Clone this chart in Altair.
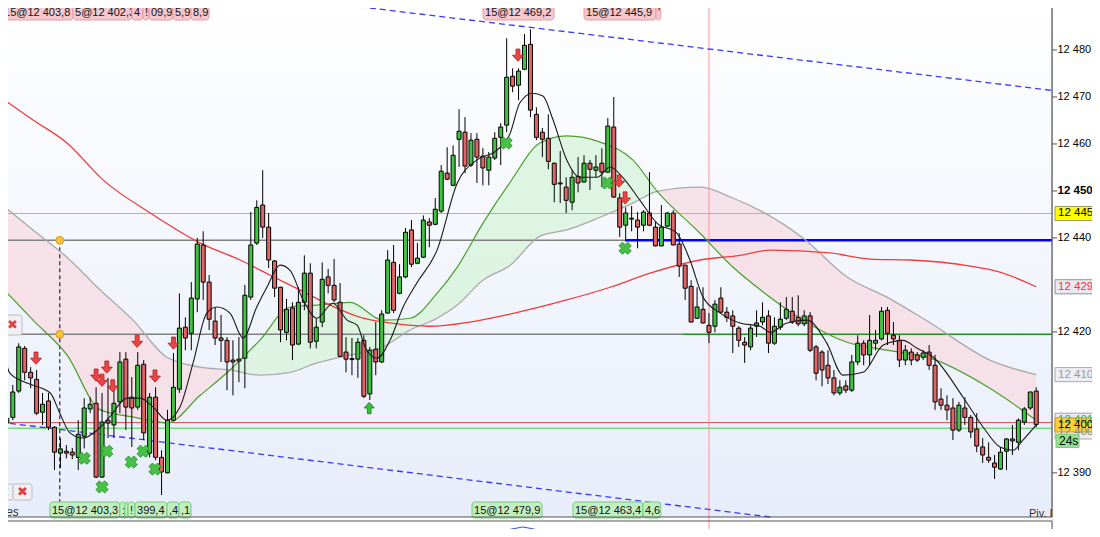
import altair as alt
import pandas as pd

# ---------------- candle data (index = bar number) ----------------
O = [12412.3, 12400.6, 12401.8, 12407.4, 12416.5, 12411.4, 12409.9, 12402.9, 12405.3, 12399.7,
     12394.2, 12394.6, 12394.4, 12393.3, 12397.8, 12403.6, 12404.8, 12389.1, 12401.2, 12400.2,
     12405.1, 12414.2, 12406.1, 12404.0, 12413.1, 12394.2, 12406.1, 12393.3, 12390.0, 12401.2,
     12407.8, 12421.0, 12419.7, 12427.0, 12438.5, 12430.6, 12422.3, 12418.7, 12418.2, 12414.0,
     12413.8, 12414.4, 12427.4, 12438.9, 12447.0, 12442.3, 12435.1, 12429.5, 12419.9, 12425.1,
     12417.4, 12426.3, 12432.5, 12418.0, 12422.1, 12431.7, 12429.9, 12426.3, 12415.7, 12414.3,
     12414.2, 12418.2, 12406.8, 12416.3, 12413.6, 12424.0, 12434.8, 12428.2, 12431.7, 12441.7,
     12434.6, 12435.9, 12443.4, 12442.9, 12445.7, 12453.8, 12451.2, 12461.0, 12462.5, 12455.5,
     12461.0, 12457.4, 12454.4, 12457.0, 12461.4, 12464.0, 12474.4, 12472.5, 12475.9, 12481.2,
     12466.3, 12462.5, 12461.2, 12455.9, 12451.7, 12450.8, 12447.6, 12453.1, 12451.9, 12455.9,
     12454.4, 12455.9, 12454.0, 12463.6, 12448.5, 12442.7, 12444.0, 12443.8, 12442.7, 12445.3,
     12442.3, 12438.3, 12442.5, 12445.3, 12438.7, 12434.2, 12429.7, 12422.9, 12424.8, 12421.4,
     12421.2, 12427.2, 12424.2, 12423.4, 12420.8, 12417.8, 12416.8, 12421.2, 12422.1, 12423.4,
     12417.6, 12421.0, 12422.9, 12424.4, 12423.1, 12421.7, 12423.4, 12416.8, 12415.7, 12412.9,
     12410.2, 12407.0, 12408.5, 12407.6, 12413.6, 12417.6, 12415.1, 12417.6, 12418.5, 12424.6,
     12419.3, 12418.2, 12414.0, 12415.7, 12415.1, 12414.6, 12415.7, 12412.9, 12405.7, 12404.4,
     12403.8, 12399.1, 12403.8, 12401.8, 12399.3, 12395.5, 12393.3, 12392.1, 12390.8, 12394.6,
     12397.2, 12396.5, 12400.8, 12403.8, 12407.4]
H = [12414.0, 12404.0, 12408.7, 12417.6, 12417.0, 12412.5, 12411.9, 12407.0, 12407.0, 12399.9,
     12397.4, 12395.9, 12395.3, 12401.2, 12405.9, 12406.1, 12408.2, 12407.0, 12410.2, 12408.0,
     12415.7, 12415.7, 12410.4, 12415.7, 12414.0, 12407.0, 12408.2, 12394.8, 12403.4, 12415.5,
     12428.2, 12423.1, 12430.6, 12440.0, 12441.4, 12432.1, 12425.3, 12423.6, 12418.9, 12418.2,
     12418.9, 12430.0, 12445.5, 12448.0, 12454.4, 12445.3, 12435.3, 12429.6, 12427.0, 12426.3,
     12429.5, 12436.3, 12434.6, 12422.9, 12434.8, 12433.4, 12435.5, 12430.4, 12418.9, 12418.7,
     12418.7, 12419.3, 12416.8, 12422.1, 12424.6, 12437.4, 12438.5, 12434.4, 12442.1, 12443.8,
     12438.9, 12444.8, 12444.2, 12448.5, 12455.5, 12459.3, 12459.7, 12467.4, 12465.7, 12462.3,
     12462.3, 12459.1, 12458.3, 12462.5, 12464.4, 12482.5, 12476.1, 12476.1, 12483.4, 12484.4,
     12467.8, 12463.4, 12466.3, 12456.0, 12458.5, 12452.9, 12454.4, 12457.2, 12457.6, 12456.6,
     12457.6, 12459.1, 12465.5, 12470.0, 12449.5, 12446.5, 12446.8, 12445.5, 12445.9, 12454.0,
     12443.4, 12447.0, 12445.5, 12445.9, 12441.0, 12434.3, 12431.0, 12429.5, 12429.5, 12424.0,
     12426.8, 12429.5, 12425.3, 12424.6, 12421.2, 12418.9, 12421.4, 12424.6, 12426.3, 12424.6,
     12423.1, 12426.3, 12427.4, 12427.4, 12427.8, 12424.6, 12424.2, 12417.2, 12416.1, 12416.1,
     12411.9, 12409.7, 12409.7, 12415.1, 12419.3, 12418.2, 12423.6, 12420.4, 12425.3, 12425.3,
     12422.1, 12419.3, 12417.2, 12416.5, 12415.7, 12416.1, 12417.2, 12415.1, 12408.0, 12406.5,
     12405.9, 12405.1, 12406.1, 12402.3, 12402.7, 12397.4, 12396.5, 12393.8, 12395.5, 12397.4,
     12400.2, 12401.6, 12404.0, 12407.3, 12408.2]
L = [12400.2, 12399.7, 12401.2, 12407.0, 12409.7, 12408.0, 12402.3, 12400.2, 12399.1, 12390.6,
     12391.0, 12393.1, 12392.9, 12390.6, 12395.2, 12402.7, 12388.9, 12388.9, 12397.4, 12397.4,
     12402.7, 12399.1, 12395.5, 12403.4, 12397.0, 12393.3, 12392.7, 12385.3, 12389.9, 12401.0,
     12407.0, 12416.1, 12416.1, 12424.2, 12426.8, 12420.4, 12417.2, 12413.6, 12407.6, 12406.5,
     12409.3, 12408.0, 12426.8, 12438.5, 12440.0, 12433.6, 12427.4, 12417.8, 12418.2, 12414.0,
     12417.2, 12424.6, 12416.5, 12416.5, 12421.0, 12428.2, 12426.3, 12414.6, 12411.4, 12410.8,
     12410.2, 12405.9, 12405.5, 12410.8, 12413.4, 12423.9, 12424.0, 12428.0, 12431.4, 12433.8,
     12434.4, 12435.7, 12438.0, 12442.7, 12445.3, 12452.3, 12451.0, 12455.1, 12453.8, 12455.1,
     12451.7, 12451.2, 12451.2, 12456.6, 12455.5, 12462.5, 12471.0, 12469.3, 12475.7, 12465.7,
     12460.8, 12457.2, 12454.6, 12447.6, 12447.4, 12445.3, 12445.9, 12449.7, 12451.8, 12450.2,
     12452.9, 12450.8, 12453.9, 12448.5, 12440.2, 12439.5, 12441.4, 12437.8, 12441.4, 12442.5,
     12438.2, 12438.2, 12442.3, 12438.4, 12431.7, 12426.8, 12422.0, 12422.8, 12421.8, 12417.6,
     12419.9, 12424.0, 12422.1, 12415.5, 12416.8, 12413.4, 12416.1, 12418.9, 12421.4, 12415.5,
     12417.2, 12420.4, 12422.5, 12421.7, 12421.2, 12421.2, 12415.7, 12409.7, 12408.4, 12408.9,
     12406.5, 12406.5, 12407.0, 12407.2, 12412.9, 12412.9, 12412.9, 12416.1, 12418.2, 12417.2,
     12417.2, 12412.5, 12412.9, 12412.9, 12413.6, 12414.0, 12411.9, 12403.4, 12403.4, 12401.2,
     12397.0, 12398.7, 12400.2, 12397.4, 12394.4, 12392.1, 12392.1, 12388.7, 12390.6, 12390.6,
     12393.8, 12394.8, 12400.2, 12403.4, 12399.7]
C = [12401.2, 12401.6, 12407.2, 12416.8, 12411.4, 12410.2, 12402.7, 12404.6, 12399.7, 12394.4,
     12395.1, 12394.2, 12393.8, 12398.2, 12403.8, 12404.6, 12389.1, 12400.8, 12400.6, 12404.8,
     12413.6, 12404.0, 12403.8, 12412.9, 12398.5, 12406.1, 12393.3, 12390.2, 12401.2, 12408.2,
     12420.8, 12418.7, 12427.2, 12438.7, 12430.6, 12422.7, 12418.7, 12418.2, 12413.6, 12413.6,
     12414.2, 12427.8, 12438.5, 12446.5, 12442.3, 12435.3, 12429.3, 12420.4, 12424.8, 12417.2,
     12426.3, 12432.5, 12417.8, 12421.0, 12431.2, 12429.9, 12426.8, 12414.8, 12414.2, 12414.1,
     12417.8, 12406.3, 12416.1, 12413.6, 12423.8, 12435.3, 12424.6, 12431.7, 12441.2, 12434.4,
     12435.7, 12443.8, 12442.7, 12446.1, 12454.2, 12452.5, 12457.6, 12462.7, 12455.3, 12460.8,
     12457.2, 12454.9, 12457.2, 12461.2, 12463.6, 12474.2, 12472.3, 12475.5, 12481.0, 12467.2,
     12461.4, 12461.0, 12456.3, 12451.4, 12451.5, 12448.0, 12452.9, 12451.7, 12455.9, 12454.6,
     12455.1, 12454.0, 12463.8, 12448.7, 12442.3, 12445.3, 12444.2, 12442.3, 12445.5, 12442.7,
     12438.3, 12442.3, 12445.3, 12438.5, 12434.0, 12429.3, 12422.1, 12425.3, 12421.9, 12419.9,
     12425.9, 12424.2, 12423.1, 12421.2, 12418.2, 12417.2, 12420.8, 12421.9, 12423.1, 12417.6,
     12421.2, 12422.7, 12424.8, 12422.1, 12421.7, 12423.4, 12416.1, 12411.2, 12411.9, 12410.2,
     12407.0, 12408.2, 12407.6, 12413.6, 12417.6, 12415.1, 12418.2, 12418.2, 12424.4, 12419.7,
     12418.5, 12414.0, 12416.1, 12414.0, 12414.0, 12415.5, 12412.9, 12405.1, 12404.4, 12403.4,
     12399.1, 12404.4, 12401.8, 12398.7, 12395.7, 12393.8, 12392.7, 12391.2, 12394.4, 12397.2,
     12396.8, 12401.2, 12403.6, 12407.2, 12400.3]

# ---------------- moving averages ----------------
band_i = [-0.15, 5.4, 11.1, 16.7, 22.2, 27.9, 33.5, 38.5, 43.5, 48.6, 53.1, 58.7, 64.2, 68.8, 73.3, 76.7,
          81.0, 85.6, 90.6, 95.1, 100.7, 106.2, 110.3, 117.5, 123.0, 128.1, 134.8, 142.2, 148.9, 156.2,
          166.2, 174.0]
green_ma = [12429.9, 12422.5, 12415.1, 12403.4, 12401.9, 12400.6, 12406.5, 12411.9, 12418.2, 12425.3,
            12425.7, 12426.3, 12422.5, 12422.9, 12428.2, 12433.8, 12443.1, 12451.9, 12460.2, 12461.7,
            12460.4, 12456.6, 12449.9, 12441.0, 12433.8, 12428.5, 12422.5, 12417.8, 12416.1, 12414.4,
            12408.0, 12401.2]
grey_ma = [12447.4, 12441.7, 12435.9, 12428.9, 12422.5, 12414.6, 12412.5, 12411.9, 12410.8, 12411.4,
           12413.4, 12415.1, 12416.8, 12420.4, 12422.9, 12425.7, 12431.0, 12434.2, 12440.4, 12441.7,
           12444.4, 12447.4, 12449.9, 12450.8, 12448.5, 12445.5, 12440.0, 12431.7, 12427.4, 12421.9,
           12414.0, 12410.9]
red_i = [-0.15, 5.4, 11.1, 17.2, 25.1, 33.5, 40.2, 45.2, 50.3, 55.3, 60.4, 65.4, 72.1, 78.8, 85.6,
         95.1, 102.4, 109.1, 117.5, 124.2, 129.3, 139.3, 146.1, 152.8, 162.9, 167.9, 174.0]
red_ma = [12470.0, 12465.1, 12460.2, 12452.3, 12445.3, 12438.9, 12435.3, 12432.1, 12428.9, 12425.7,
          12423.1, 12421.9, 12421.2, 12422.1, 12423.8, 12426.8, 12429.5, 12432.5, 12435.3, 12436.3,
          12437.4, 12436.8, 12435.5, 12435.3, 12434.0, 12432.7, 12429.6]
black_i = [-0.15, 1.5, 4.4, 8.3, 9.9, 11.6, 13.8, 16.2, 18.3, 21.2, 23.4, 25.6, 27.9, 30.1, 32.3, 34.6,
           36.3, 38.5, 40.7, 43.0, 44.7, 46.9, 48.6, 50.8, 53.1, 55.8, 58.2, 59.9, 61.2, 63.2, 65.4,
           67.6, 69.9, 73.3, 76.7, 80.0, 83.4, 85.6, 87.2, 89.3, 91.1, 92.8, 95.1, 97.3, 100.2, 102.4,
           104.5, 107.4, 110.3, 113.6, 115.8, 118.0, 120.9, 124.2, 127.6, 129.3, 132.1, 135.5, 138.8,
           141.5, 144.9, 148.3, 151.6, 154.0, 156.7, 161.7, 165.1, 167.9, 170.1, 171.8, 174.0]
black_ma = [12421.0, 12411.2, 12409.1, 12407.0, 12402.7, 12398.5, 12397.4, 12399.1, 12401.9, 12405.9,
            12405.9, 12404.0, 12401.2, 12404.0, 12413.4, 12424.0, 12425.3, 12424.0, 12418.7, 12425.3,
            12429.5, 12434.2, 12433.1, 12426.8, 12422.9, 12426.1, 12422.5, 12421.4, 12416.8, 12414.4,
            12418.2, 12425.3, 12430.4, 12437.4, 12451.7, 12456.6, 12458.7, 12462.3, 12468.7, 12470.8,
            12470.2, 12465.1, 12456.6, 12452.9, 12452.9, 12455.1, 12452.9, 12448.0, 12443.1, 12441.0,
            12435.3, 12427.4, 12424.0, 12421.9, 12421.2, 12419.9, 12421.9, 12422.5, 12417.6, 12410.8,
            12411.4, 12417.2, 12418.2, 12416.5, 12414.6, 12406.1, 12399.7, 12395.5, 12394.8, 12397.0,
            12400.2]

# ---------------- levels, trend lines, markers ----------------
level_val = [12445.2, 12439.5, 12439.5, 12419.5, 12419.5, 12400.7, 12399.5]
level_from = [-0.15, -0.15, 104.9, -0.15, 114.6, -0.15, -0.15]
level_to = [176.65, 104.9, 176.65, 114.6, 176.65, 176.65, 176.65]
level_color = ["#ff9090", "#808080", "#0000ff", "#808080", "#1a961a", "#e05050", "#44cc44"]
level_width = [1.0, 1.3, 2.6, 1.3, 1.3, 1.0, 1.0]

trend_id = ["up", "up", "lo", "lo"]
trend_i = [57.0, 176.65, -0.15, 129.3]
trend_v = [12489.7, 12471.4, 12400.8, 12380.6]

sell_i = [5.9, 16.0, 17.0, 17.8, 18.8, 22.9, 25.9, 29.0, 86.9, 103.9, 104.9]
sell_v = [12414.4, 12410.8, 12409.7, 12412.5, 12408.5, 12418.0, 12410.6, 12417.6, 12478.9, 12452.1, 12448.5]
buy_i = [61.9]
buy_v = [12403.8]
cross_i = [14.0, 17.0, 17.8, 21.9, 23.9, 25.9, 84.9, 101.9, 104.9]
cross_v = [12393.1, 12387.0, 12394.6, 12392.3, 12394.6, 12390.8, 12460.2, 12451.7, 12437.8]

dot_i = [9.9, 9.9, 9.9]
dot_v = [12439.5, 12419.5, 12381.9]
vline_i = [119.0]

top_text = ["15@12 403,8", "5@12 402,3", "4", "!", "09,9", "5,9", "8,9", "15@12 469,2", "15@12 445,9", "'"]
top_x0 = [0.19, 12.12, 22.03, 23.88, 24.89, 28.92, 31.95, 81.03, 98.0, 110.1]
top_x1 = [12.12, 22.03, 23.88, 24.89, 28.92, 31.95, 34.98, 92.96, 110.1, 110.9]
bot_text = ["15@12 403,3", ":", ":", "!", "399,4", ",4", ",1", "15@12 479,9", "15@12 463,4", "4,6"]
bot_x0 = [8.25, 20.0, 20.86, 21.36, 22.54, 27.92, 29.93, 79.18, 96.15, 107.9]
bot_x1 = [20.0, 20.86, 21.36, 22.54, 27.92, 29.93, 31.95, 90.94, 107.9, 110.9]

tick_vals = [12390, 12420, 12440, 12450, 12460, 12470, 12480]
tick_text = ["12 390", "12 420", "12 440", "12 450", "12 460", "12 470", "12 480"]
tick_weight = ["normal", "normal", "normal", "bold", "normal", "normal", "normal"]

tag_v = [12445.2, 12429.6, 12410.9, 12401.2, 12398.7, 12400.2]
tag_text = ["12 445,2", "12 429,6", "12 410,9", "12 401,2", "12 400,2", "12 400,3"]
tag_fill = ["#ffff00", "#e9e9f1", "#ededf3", "#e9e9f1", "#ededf3", "#ffcf3a"]
tag_stroke = ["#9a9a60", "#9090a0", "#a8a8b8", "#a0a0b0", "#a8a8b8", "#c89a20"]
tag_color = ["#000000", "#ff3030", "#9a9a9a", "#4caf4c", "#8a8a8a", "#000000"]

ind_blue_i = [73.8, 76.7, 78.9, 81.0, 84.4, 87.7, 89.4, 92.3, 94.0]
ind_blue_v = [8.7, 8.9, 9.1, 9.0, 9.2, 9.5, 9.35, 9.0, 8.7]
ind_red_i = [80.0, 84.4, 87.7, 91.1, 93.5]
ind_red_v = [8.8, 8.95, 9.25, 9.2, 8.8]

# ---------------- chart ----------------
X0, X1 = -0.15, 176.65
W, HT = 1052, 526
MAIN_H = 514
FONT = "Liberation Sans"

xs = alt.Scale(domain=[X0, X1], nice=False, zero=False, padding=0)
ys = alt.Scale(domain=[12380.6, 12490.0], range=[MAIN_H, 0], nice=False, zero=False, padding=0)

one = pd.DataFrame({"a": [0]})


def X(field):
    return alt.X(field, type="quantitative", scale=xs, axis=None)


def Y(field):
    return alt.Y(field, type="quantitative", scale=ys, axis=None)


bg = alt.Chart(one).mark_rect(
    color={"gradient": "linear", "x1": 0, "y1": 0, "x2": 0, "y2": 1,
           "stops": [{"offset": 0, "color": "#ffffff"}, {"offset": 1, "color": "#e7edfa"}]}
).encode(x=alt.value(0), x2=alt.value(W), y=alt.value(0), y2=alt.value(MAIN_H))

band = pd.DataFrame({"i": band_i, "g": green_ma, "s": grey_ma})
pink_band = pd.concat([band.iloc[0:8], band.iloc[22:]]).assign(seg=["a"] * 8 + ["b"] * (len(band) - 22))
green_band = band.iloc[7:23]

pink_area = alt.Chart(pink_band).mark_area(color="#f6dfe7", opacity=0.9, interpolate="monotone").encode(
    x=X("i"), y=Y("g"), y2="s", detail="seg:N")
green_area = alt.Chart(green_band).mark_area(color="#dcf4e0", opacity=0.9, interpolate="monotone").encode(
    x=X("i"), y=Y("g"), y2="s")

lev = pd.DataFrame({"v": level_val, "a": level_from, "b": level_to, "c": level_color, "w": level_width})
levels = alt.Chart(lev).mark_rule().encode(
    x=X("a"), x2="b", y=Y("v"), color=alt.Color("c:N", scale=None),
    strokeWidth=alt.StrokeWidth("w:Q", scale=None))

vline = alt.Chart(pd.DataFrame({"i": vline_i})).mark_rule(color="#f39a9a", strokeWidth=1).encode(
    x=X("i"), y=alt.value(0), y2=alt.value(HT))

tr = pd.DataFrame({"id": trend_id, "i": trend_i, "v": trend_v})
trends = alt.Chart(tr).mark_line(color="#3a3aff", strokeWidth=1.3, strokeDash=[6, 4], clip=True).encode(
    x=X("i"), y=Y("v"), detail="id:N")

dots_df = pd.DataFrame({"i": dot_i, "v": dot_v})
dash_v = alt.Chart(dots_df.iloc[[0, 2]]).mark_line(color="#000000", strokeWidth=1, strokeDash=[4, 3]).encode(
    x=X("i"), y=Y("v"))


def ma_line(ix, vals, color, width):
    return alt.Chart(pd.DataFrame({"i": ix, "v": vals})).mark_line(
        color=color, strokeWidth=width, interpolate="monotone", clip=True).encode(x=X("i"), y=Y("v"))


grey_line = ma_line(band_i, grey_ma, "#a9a9a9", 1.3)
green_line = ma_line(band_i, green_ma, "#4c9e2c", 1.2)
red_line = ma_line(red_i, red_ma, "#f03c3c", 1.3)
black_line = ma_line(black_i, black_ma, "#1a1a1a", 1.1)

cd = pd.DataFrame({"i": list(range(len(O))), "o": O, "h": H, "l": L, "c": C})
cd["dir"] = ["up" if c >= o else "down" for o, c in zip(O, C)]
wicks = alt.Chart(cd).mark_rule(color="#000000", strokeWidth=1).encode(
    x=X("i"), y=Y("l"), y2="h:Q")
bodies = alt.Chart(cd).mark_bar(size=4, stroke="#000000", strokeWidth=1).encode(
    x=X("i"), y=Y("o"), y2="c",
    color=alt.Color("dir:N", scale=alt.Scale(domain=["up", "down"], range=["#3fc43f", "#e26464"]), legend=None))

down_arrow = "M-0.32,-1L0.32,-1L0.32,0L0.9,0L0,1L-0.9,0L-0.32,0Z"
up_arrow = "M-0.32,1L0.32,1L0.32,0L0.9,0L0,-1L-0.9,0L-0.32,0Z"
sells = alt.Chart(pd.DataFrame({"i": sell_i, "v": sell_v})).mark_point(
    shape=down_arrow, size=150, filled=True, color="#e84646", stroke="#b02020", strokeWidth=0.8, opacity=1
).encode(x=X("i"), y=Y("v"))
buys = alt.Chart(pd.DataFrame({"i": buy_i, "v": buy_v})).mark_point(
    shape=up_arrow, size=130, filled=True, color="#3cbc3c", stroke="#1a7a1a", strokeWidth=0.8, opacity=1
).encode(x=X("i"), y=Y("v"))
crosses = alt.Chart(pd.DataFrame({"i": cross_i, "v": cross_v})).mark_point(
    shape="cross", angle=45, size=150, filled=True, color="#46c046", stroke="#218a21", strokeWidth=0.8, opacity=1
).encode(x=X("i"), y=Y("v"))
dots = alt.Chart(dots_df).mark_point(
    shape="circle", size=60, filled=True, color="#f8c440", stroke="#d89a10", strokeWidth=1, opacity=1
).encode(x=X("i"), y=Y("v"))


# order labels: each box drawn over the previous label's text, as in the platform
def order_label(t, a, b, y0, y1, fill, stroke):
    d = pd.DataFrame({"t": [t], "a": [a], "b": [b]})
    bx = alt.Chart(d).mark_rect(fill=fill, stroke=stroke, strokeWidth=1, cornerRadius=3).encode(
        x=X("a"), x2="b", y=alt.value(y0), y2=alt.value(y1))
    tx = alt.Chart(d).mark_text(align="left", baseline="middle", dx=2, font=FONT, fontSize=11,
                                color="#111111").encode(x=X("a"), y=alt.value((y0 + y1) / 2 + 0.5), text="t:N")
    return [bx, tx]


order_layers = []
for t, a, b in zip(top_text, top_x0, top_x1):
    order_layers += order_label(t, a, b, 1, 17, "#f5c8cd", "#e79ca4")
for t, a, b in zip(bot_text, bot_x0, bot_x1):
    order_layers += order_label(t, a, b, 499, 515, "#c2efc2", "#74cc74")

# right price scale (drawn as marks)
tk = pd.DataFrame({"v": tick_vals, "t": tick_text, "w": tick_weight})
axis_line = alt.Chart(one).mark_rule(color="#555555", strokeWidth=1.2).encode(
    x=alt.value(W), y=alt.value(0), y2=alt.value(MAIN_H))
tick_marks = alt.Chart(tk).mark_rule(color="#555555", strokeWidth=1).encode(
    x=alt.value(W), x2=alt.value(W + 5), y=Y("v"))
tick_norm = alt.Chart(tk[tk["w"] == "normal"]).mark_text(
    align="left", baseline="middle", font=FONT, fontSize=11, color="#000000").encode(
    x=alt.value(W + 5.5), y=Y("v"), text="t:N")
tick_bold = alt.Chart(tk[tk["w"] == "bold"]).mark_text(
    align="left", baseline="middle", font=FONT, fontSize=11.5, fontWeight="bold", color="#000000").encode(
    x=alt.value(W + 5.5), y=Y("v"), text="t:N")

# price tags on the axis
tags = pd.DataFrame({"v": tag_v, "t": tag_text, "f": tag_fill, "s": tag_stroke, "c": tag_color})
tags["top"] = tags["v"] + 1.5
tags["bot"] = tags["v"] - 1.5
tag_box = alt.Chart(tags).mark_rect(strokeWidth=1).encode(
    x=alt.value(1055), x2=alt.value(1110), y=Y("top"), y2="bot",
    fill=alt.Fill("f:N", scale=None), stroke=alt.Stroke("s:N", scale=None))
tag_txt = alt.Chart(tags).mark_text(align="left", baseline="middle", font=FONT, fontSize=11.5).encode(
    x=alt.value(1058), y=Y("v"), text="t:N", color=alt.Color("c:N", scale=None))
secs = pd.DataFrame({"v": [12396.8], "t": ["24s"]})
secs["top"] = secs["v"] + 1.4
secs["bot"] = secs["v"] - 1.4
sec_box = alt.Chart(secs).mark_rect(fill="#92e292", stroke="#7ccc7c").encode(
    x=alt.value(1056), x2=alt.value(1079), y=Y("top"), y2="bot")
sec_txt = alt.Chart(secs).mark_text(align="left", baseline="middle", font=FONT, fontSize=12, color="#000").encode(
    x=alt.value(1059), y=Y("v"), text="t:N")


# frame lines and small UI bits (pixel-placed decorations)
def hrule(y, x0=0, x1=W, color="#555555", width=1.2):
    return alt.Chart(one).mark_rule(color=color, strokeWidth=width).encode(
        x=alt.value(x0), x2=alt.value(x1), y=alt.value(y))


def box(x0, x1, y0, y1, fill="#f0f0f2", stroke="#bcbcc4"):
    return alt.Chart(one).mark_rect(fill=fill, stroke=stroke, cornerRadius=2).encode(
        x=alt.value(x0), x2=alt.value(x1), y=alt.value(y0), y2=alt.value(y1))


def label(x, y, t, color="#333333", size=12, font=FONT, style="normal", align="center"):
    return alt.Chart(one).mark_text(font=font, fontSize=size, fontStyle=style, align=align,
                                    baseline="middle", color=color, text=t).encode(
        x=alt.value(x), y=alt.value(y))


frame = hrule(0)
sep1 = hrule(MAIN_H)
sep2 = hrule(MAIN_H + 4)
sub_axis = alt.Chart(one).mark_rule(color="#555555", strokeWidth=1).encode(
    x=alt.value(W), y=alt.value(MAIN_H + 4), y2=alt.value(HT))

ui_parts = [
    box(-6, 3, 312, 332), box(3, 22, 312, 332), label(12.5, 322, "✖", "#e04040", 13, "DejaVu Sans"),
    box(-10, 13, 481, 497), label(5, 489, "€", "#1a9a1a", 13, "DejaVu Sans"),
    box(13, 32, 481, 497), label(22.5, 489, "✖", "#e04040", 13, "DejaVu Sans"),
    label(0, 509, "ves", "#333333", 12, FONT, "italic", "left"),
    label(1029, 511, "Piv. I", "#333333", 11, FONT, "normal", "left"),
]

price = alt.layer(
    bg, pink_area, green_area, levels, vline, trends, dash_v, grey_line, green_line, red_line,
    wicks, bodies, black_line, sells, buys, crosses, dots, *order_layers,
    axis_line, tick_marks, tick_norm, tick_bold,
    tag_box, tag_txt, sec_box, sec_txt, frame, sep1, sep2, sub_axis, *ui_parts,
)

ind_s = alt.Scale(domain=[9.0, 10.0], range=[530, MAIN_H + 4], nice=False, zero=False)
ind_blue = alt.Chart(pd.DataFrame({"i": ind_blue_i, "v": ind_blue_v})).mark_line(
    color="#3050e0", strokeWidth=1, clip=True).encode(x=X("i"), y=alt.Y("v:Q", scale=ind_s, axis=None))
ind_red = alt.Chart(pd.DataFrame({"i": ind_red_i, "v": ind_red_v})).mark_line(
    color="#e05050", strokeWidth=1, clip=True).encode(x=X("i"), y=alt.Y("v:Q", scale=ind_s, axis=None))
indicator = alt.layer(ind_blue, ind_red)

chart = alt.layer(price, indicator).resolve_scale(y="independent").properties(
    width=W, height=HT, autosize=alt.AutoSizeParams(type="none"),
    padding={"left": -8, "top": -5, "right": 40, "bottom": 0},
).configure_view(stroke=None).configure(background="#ffffff")

chart.save("out.html", embed_options={"renderer": "svg", "actions": False})
